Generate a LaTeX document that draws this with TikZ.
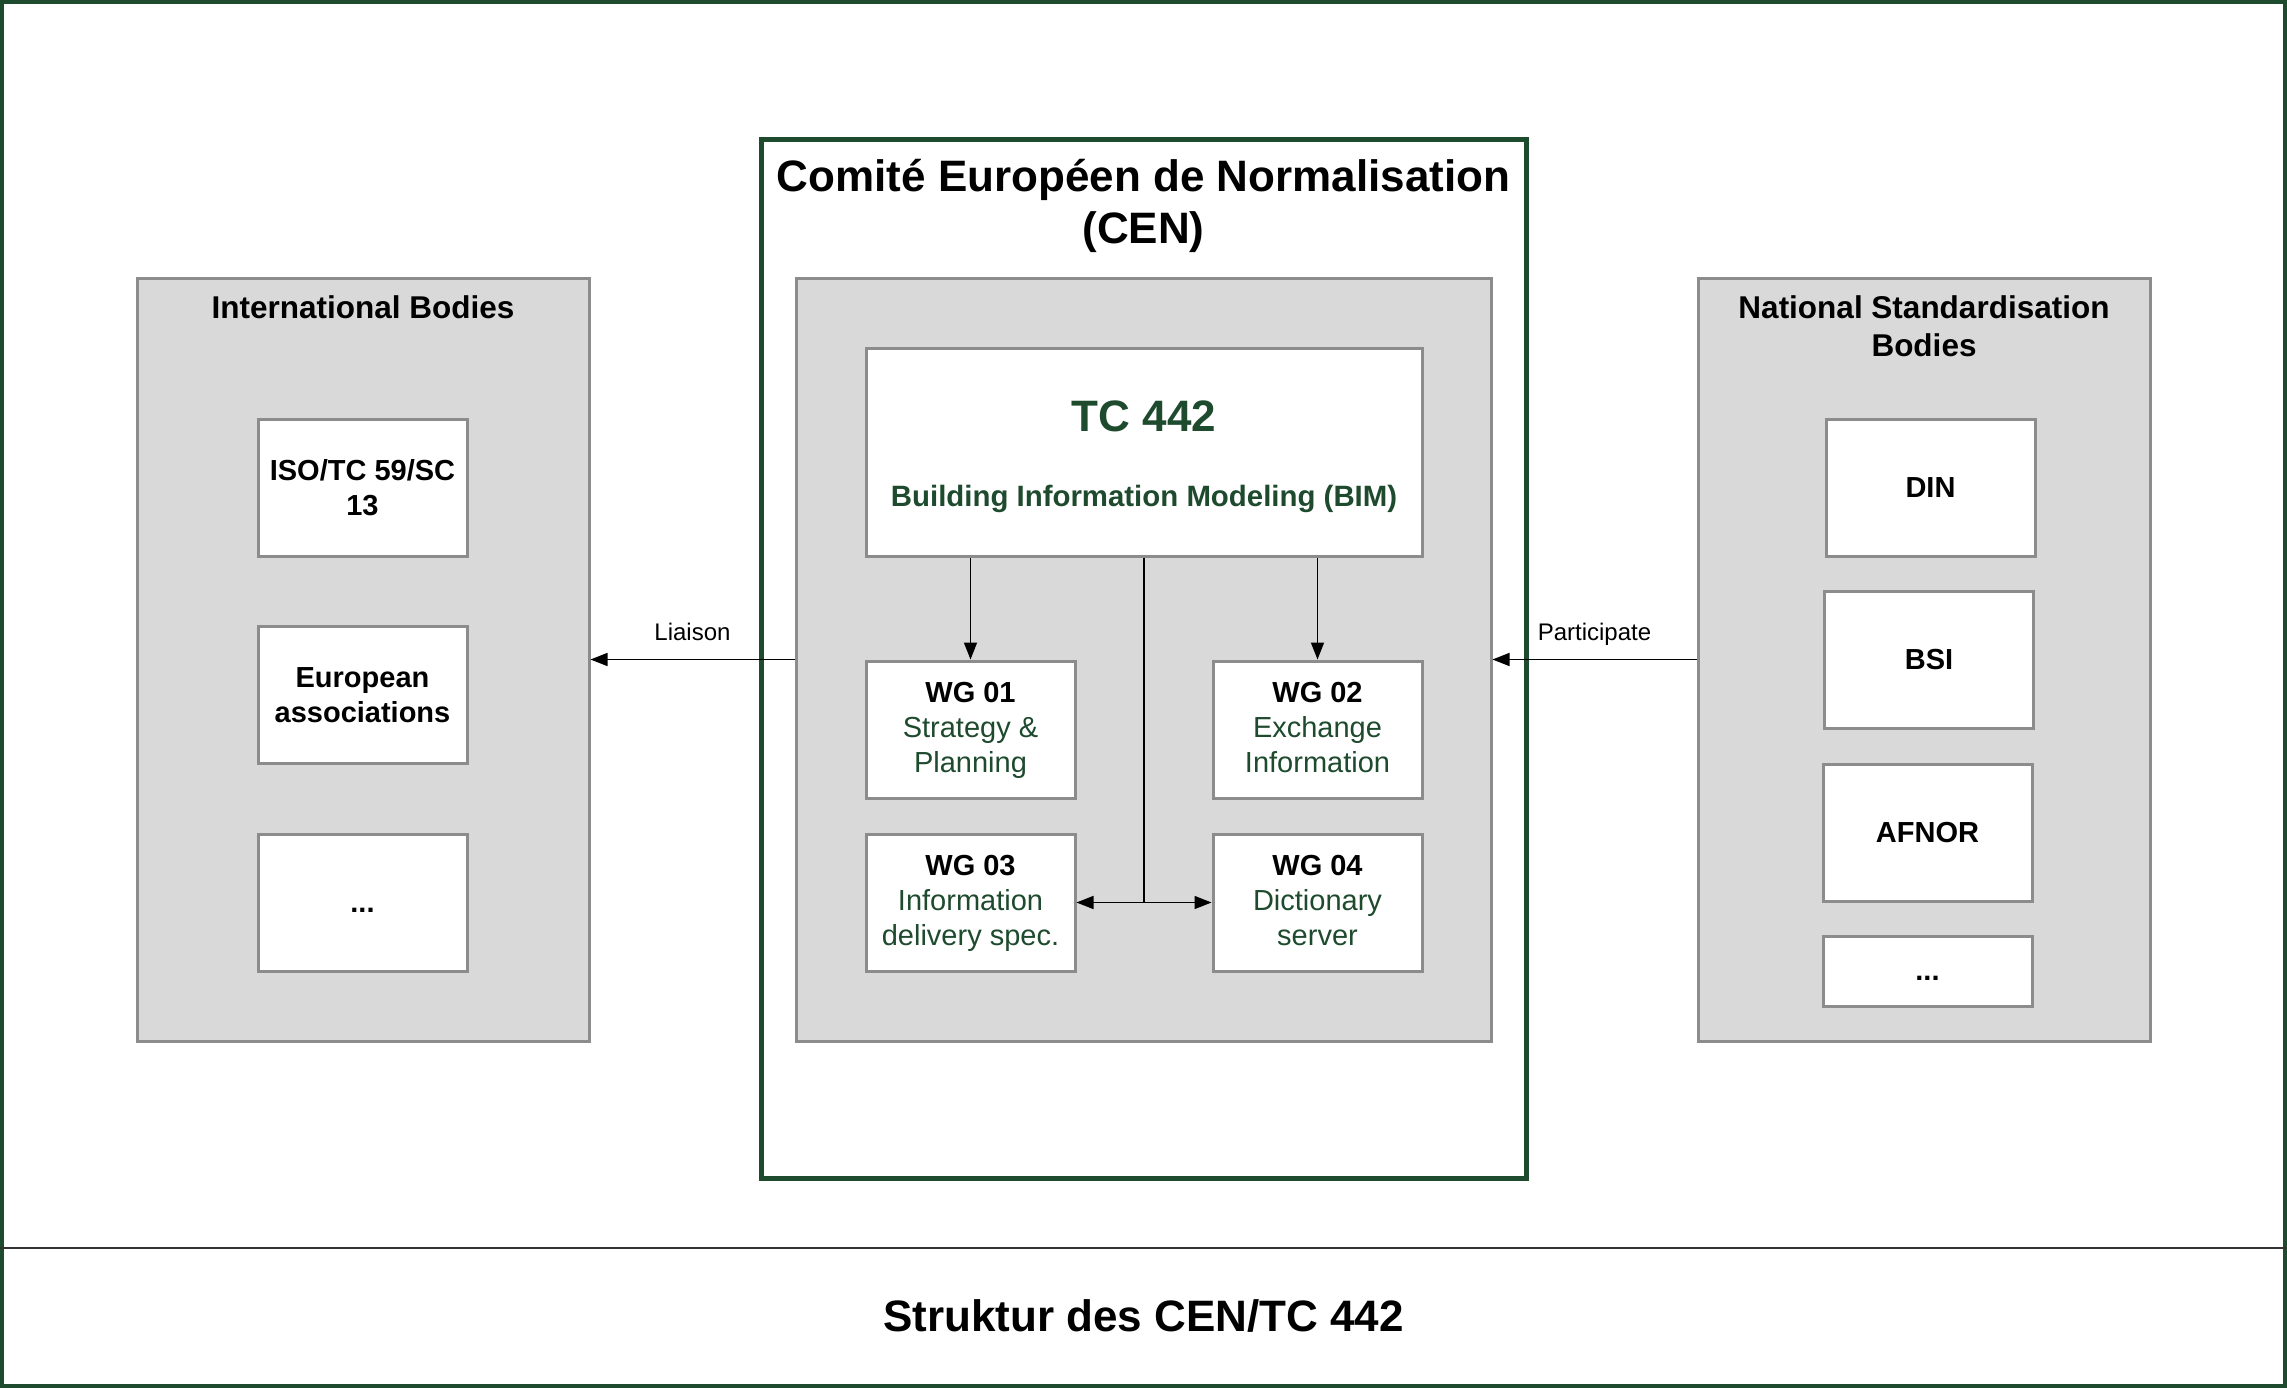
\documentclass[tikz,border=0pt]{standalone}
\usepackage{fontspec}
\setmainfont{Liberation Sans}
\usetikzlibrary{arrows.meta}
\definecolor{cengreen}{HTML}{1E4A2E}
\definecolor{boxgray}{HTML}{D9D9D9}
\definecolor{edgegray}{HTML}{8C8C8C}
\newcommand{\wgtext}[1]{{\mdseries\color{cengreen}#1}}
\begin{document}
\begin{tikzpicture}[x=1pt,y=-1pt,
  group/.style={rectangle,draw=edgegray,fill=boxgray,line width=3pt,inner sep=0pt},
  unit/.style={rectangle,draw=edgegray,fill=white,line width=3pt,inner sep=0pt,
    minimum width=209pt,minimum height=137pt,align=center,
    font=\fontsize{29}{35}\selectfont\bfseries},
  wgunit/.style={unit,text depth=4pt},
  moreunit/.style={unit,text height=19pt,text depth=0pt},
  grouptitle/.style={align=center,font=\fontsize{31.5}{38}\selectfont\bfseries},
  link/.style={line width=1.6pt,-{Triangle[length=17pt,width=13pt]}},
  linklabel/.style={inner sep=0pt,text depth=0pt,font=\fontsize{24}{28}\selectfont}]
\useasboundingbox (0,0) rectangle (2287,1388);
\draw [cengreen,line width=4pt] (2,2) rectangle (2285,1386);
\coordinate (sepl) at (0,1248);
\coordinate (sepr) at (2287,1248);
\draw [black!80,line width=2.4pt] (sepl) -- (sepr);
\node (caption) at (1143.5,1316) {\fontsize{44}{50}\selectfont\bfseries Struktur des CEN/TC 442};

\node (cen) [rectangle,draw=cengreen,line width=5pt,minimum width=765pt,minimum height=1038pt] at (1143.5,659) {};
\node (centitle) [align=center,font=\fontsize{44}{52}\selectfont\bfseries] at (1143.5,206) {Comité Européen de Normalisation\\(CEN)};
\node (tcgrp) [group,minimum width=695pt,minimum height=762pt] at (1143.5,660) {};
\node (tcbox) [unit,minimum width=556pt,minimum height=207pt] at (1144,452.5) {};
\node (tcname) [text=cengreen,font=\fontsize{44}{52}\selectfont\bfseries] at (1144,416) {TC 442};
\node (tcbim) [text=cengreen,font=\fontsize{29.4}{35}\selectfont\bfseries] at (1144,499) {Building Information Modeling (BIM)};
\node (wg1) [wgunit] at (970.5,729.5) {WG 01\\\wgtext{Strategy \&}\\\wgtext{Planning}};
\node (wg2) [wgunit] at (1317.5,729.5) {WG 02\\\wgtext{Exchange}\\\wgtext{Information}};
\node (wg3) [wgunit] at (970.5,902.5) {WG 03\\\wgtext{Information}\\\wgtext{delivery spec.}};
\node (wg4) [wgunit] at (1317.5,902.5) {WG 04\\\wgtext{Dictionary}\\\wgtext{server}};

\node (intl) [group,minimum width=452pt,minimum height=762pt] at (363,660) {};
\node (intltitle) [grouptitle] at (363,307) {International Bodies};
\node (iso) [unit] at (362.5,487.5) {ISO/TC 59/SC\\13};
\node (euro) [unit] at (362.5,695) {European\\associations};
\node (intlmore) [moreunit] at (362.5,902.5) {...};

\node (natl) [group,minimum width=452pt,minimum height=762pt] at (1924,660) {};
\node (natltitle) [grouptitle] at (1924,326) {National Standardisation\\Bodies};
\node (din) [unit] at (1930.5,487.5) {DIN};
\node (bsi) [unit] at (1929,660) {BSI};
\node (afnor) [unit] at (1927.5,832.5) {AFNOR};
\node (natlmore) [moreunit,minimum height=70pt] at (1927.5,971) {...};

\draw [link] (tcbox.south -| wg1.north) -- (wg1.north);
\draw [link] (tcbox.south -| wg2.north) -- (wg2.north);
\coordinate (hub) at (tcbox.south |- wg3.east);
\draw [line width=1.6pt] (tcbox.south) -- (hub);
\draw [link] (hub) -- (wg3.east);
\draw [link] (hub) -- (wg4.west);

\draw [link] (tcgrp.west |- wg1.north) -- node [linklabel,above=18pt] {Liaison} (intl.east |- wg1.north);
\draw [link] (natl.west |- wg2.north) -- node [linklabel,above=18pt] {Participate} (tcgrp.east |- wg2.north);
\end{tikzpicture}
\end{document}
